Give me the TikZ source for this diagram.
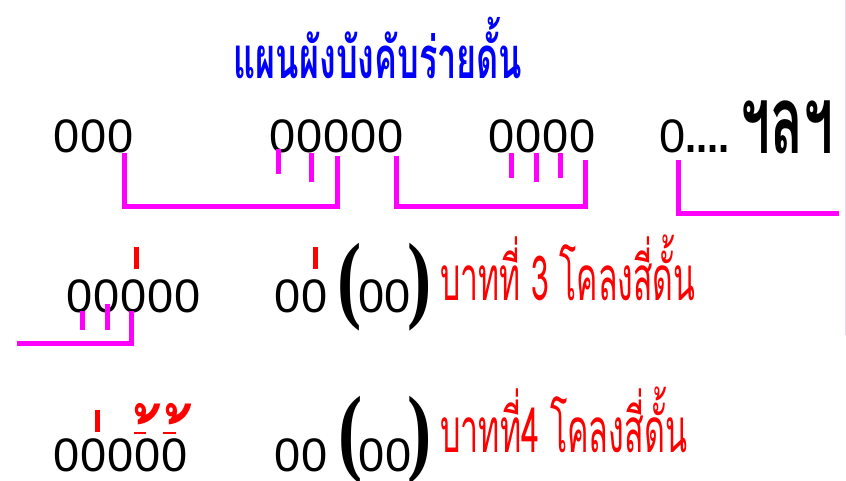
\documentclass[tikz,border=0pt]{standalone}
\usepackage{fontspec}
\setmainfont{Liberation Sans}
\newfontfamily\thai[Script=Thai]{Loma}
\newfontfamily\parenfont{Liberation Serif}
\usetikzlibrary{calc}
\definecolor{mag}{RGB}{255,0,255}
\definecolor{tblue}{RGB}{0,0,255}
\definecolor{tred}{RGB}{255,0,0}
\definecolor{edge}{RGB}{236,212,236}
\begin{document}
\begin{tikzpicture}[x=1pt,y=-1pt,
  zero/.style={inner sep=0pt, anchor=base, font=\fontsize{47}{47}\selectfont},
  par/.style={inner sep=0pt, anchor=base, font=\parenfont\bfseries\fontsize{97}{97}\selectfont},
  brk/.style={draw=mag, line width=5pt},
  ek/.style={draw=tred, line width=5pt},
  tho/.style={inner sep=0pt, anchor=base, text=tred, font=\thai\bfseries\fontsize{70}{70}\selectfont},
  redtxt/.style={inner sep=0pt, anchor=base west, text=tred, font=\thai\fontsize{62}{62}\selectfont},
  title/.style={inner sep=0pt, anchor=base, text=tblue, font=\thai\bfseries\fontsize{58}{58}\selectfont}]
\useasboundingbox (0,0) rectangle (846,480);
\fill[white] (0,0) rectangle (846,480);
\draw[edge, line width=1pt] (845.5,0) -- (845.5,335);
% title
\node[title] (ttl) at (378,78) {\scalebox{0.59}[1]{แผนผังบังคับร่ายดั้น}};
% row 1
\foreach \x [count=\i] in {67,94,121} \node[zero] (a\i) at (\x,152) {0};
\foreach \x [count=\i] in {283,310,337,364,391} \node[zero] (b\i) at (\x,152) {0};
\foreach \x [count=\i] in {502,529,556,583} \node[zero] (c\i) at (\x,152) {0};
\node[zero] (d1) at (673,152) {0};
\node[inner sep=0pt, anchor=base west, font=\bfseries\fontsize{47}{47}\selectfont] (dots) at (685,152) {\scalebox{0.85}[1]{....}};
\node[inner sep=0pt, anchor=base west, font=\thai\bfseries\fontsize{94}{94}\selectfont] (etc) at (740,153) {\scalebox{0.57}[1]{ฯลฯ}};
\coordinate (dend) at (839,213);
\draw[brk] ($(a3.south)+(3,0)$) -- ($(a3.south)+(3,54)$) -| ($(b3.south)+(0,3)$);
\draw[brk] ($(b1.south)+(-5,-4)$) -- ++(0,25);
\draw[brk] ($(b2.south)+(1,0)$) -- ++(0,29);
\draw[brk] ($(b5.south)+(5,3)$) -- ++(0,51) -| ($(c4.south)+(2,7)$);
\draw[brk] ($(c1.south)+(9,0)$) -- ++(0,25);
\draw[brk] ($(c2.south)+(7,0)$) -- ++(0,29);
\draw[brk] ($(c3.south)+(4,0)$) -- ++(0,25);
\draw[brk] ($(d1.south)+(5,7)$) |- (dend);
% row 2
\foreach \x [count=\i] in {80,107,134,161,188} \node[zero] (e\i) at (\x,312) {0};
\foreach \x [count=\i] in {288,315} \node[zero] (f\i) at (\x,312) {0};
\node[par] (lp1) at (350,310) {\scalebox{0.75}[1]{(}};
\foreach \x [count=\i] in {372,398} \node[zero] (g\i) at (\x,312) {0};
\node[par] (rp1) at (420,310) {\scalebox{0.75}[1]{)}};
\node[redtxt] (v3) at (440,300) {\scalebox{0.515}[1]{บาทที่ 3 โคลงสี่ดั้น}};
\coordinate (eend) at (17,343);
\draw[brk] ($(e1.south)+(2,-2)$) -- ++(0,19);
\draw[brk] ($(e2.south)+(0,-9)$) -- ++(0,26);
\draw[brk] ($(e3.south)+(-3,-2)$) |- (eend);
\draw[ek] ($(e3.south)+(2,-66)$) -- ++(0,22);
\draw[ek] ($(f2.south)+(0,-66)$) -- ++(0,22);
% row 3
\foreach \x [count=\i] in {67,94,121,148,175} \node[zero] (h\i) at (\x,471) {0};
\foreach \x [count=\i] in {288,315} \node[zero] (i\i) at (\x,471) {0};
\node[par] (lp2) at (351,463) {\scalebox{0.75}[1]{(}};
\foreach \x [count=\i] in {372,399} \node[zero] (j\i) at (\x,471) {0};
\node[par] (rp2) at (420,463) {\scalebox{0.75}[1]{)}};
\node[redtxt] (v4) at (440,452) {\scalebox{0.52}[1]{บาทที่4 โคลงสี่ดั้น}};
\draw[ek] ($(h2.south)+(3,-62)$) -- ++(0,22);
\node[tho] (t1) at (158,432) {\raisebox{-71pt}[34pt][0pt]{\scalebox{1}[1.35]{้}}};
\node[tho] (t2) at (189,432) {\raisebox{-71pt}[34pt][0pt]{\scalebox{1}[1.35]{้}}};
\draw[tred, line width=2pt] ($(h4.south)+(-14,-39)$) -- ++(12,0);
\draw[tred, line width=2pt] ($(h5.south)+(-12,-39)$) -- ++(13,0);
\end{tikzpicture}
\end{document}
